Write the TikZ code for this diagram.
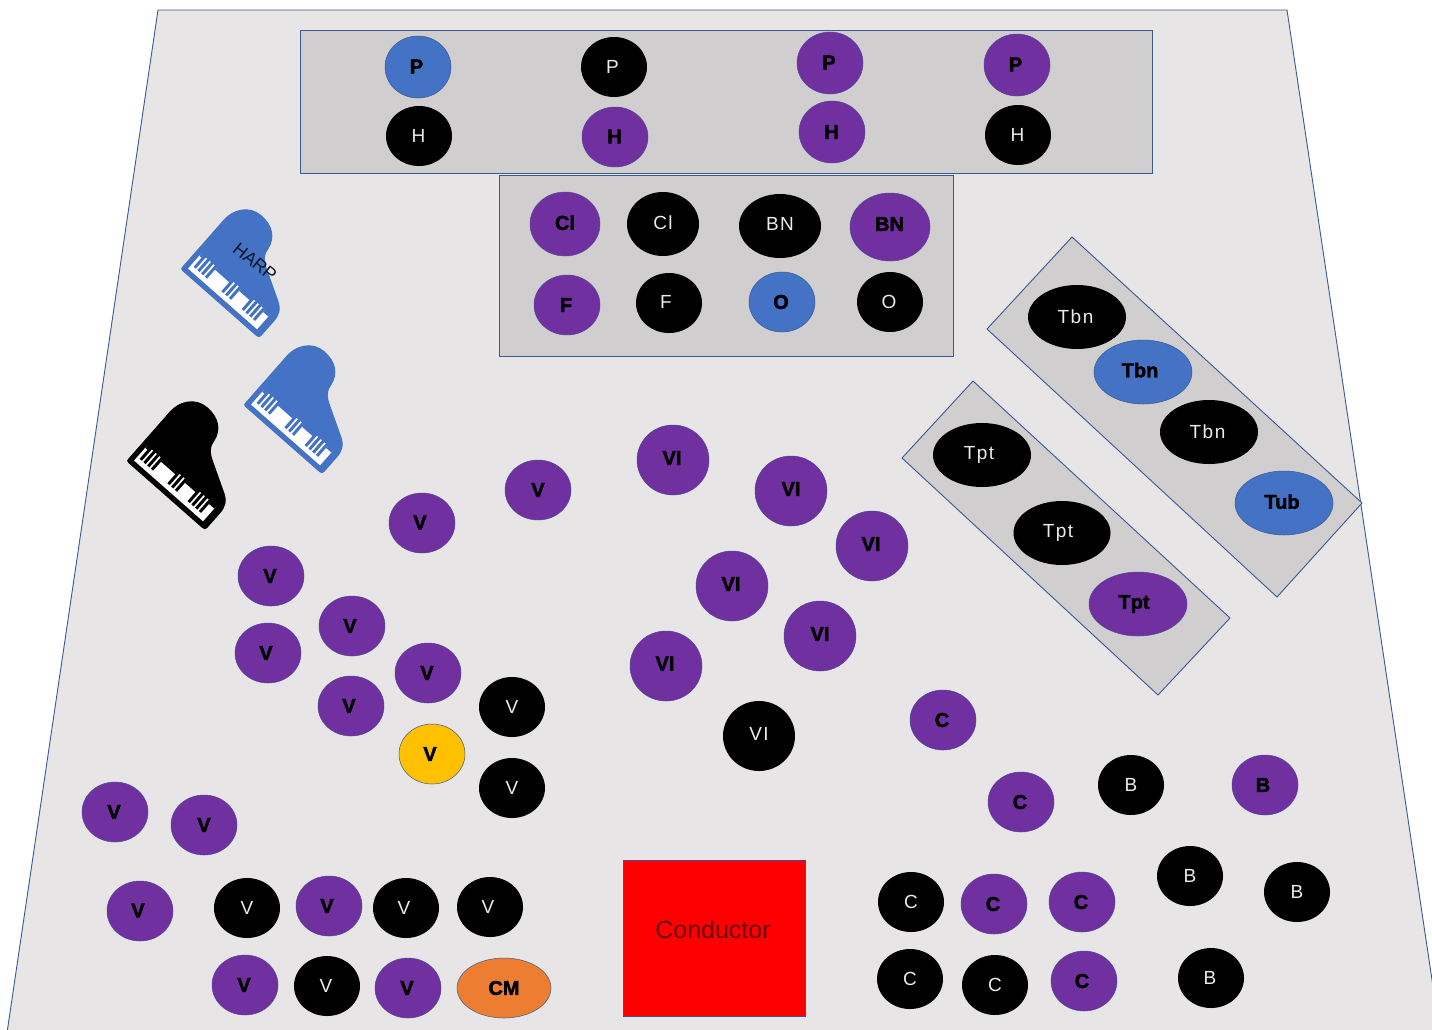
\documentclass[tikz,border=0pt]{standalone}
\usepackage{fontspec}
\setmainfont{Liberation Sans}
\newfontfamily\wtfont[LetterSpace=8]{Liberation Sans}
\newfontfamily\bdfont[FakeBold=2]{Liberation Sans Bold}
\usetikzlibrary{shapes.geometric}
\definecolor{stagec}{HTML}{E7E5E6}
\definecolor{panelc}{HTML}{D0CECE}
\definecolor{edgec}{HTML}{3A5A90}
\definecolor{purp}{HTML}{7030A0}
\definecolor{blu}{HTML}{4472C4}
\definecolor{yel}{HTML}{FFC000}
\definecolor{org}{HTML}{ED7D31}
\definecolor{condtext}{HTML}{6A0008}
\tikzset{
  panel/.style={draw=edgec,fill=panelc,line width=.9pt,line join=miter},
  seat/.style={ellipse,inner sep=0pt,outer sep=0pt,font=\bdfont\fontsize{20}{20}\selectfont,text=black},
  pur/.style={seat,fill=purp,draw=edgec!60!purp,line width=.5pt},
  blue/.style={seat,fill=blu,draw=edgec,line width=.5pt},
  blk/.style={seat,fill=black,font=\wtfont\fontsize{19}{19}\selectfont,text=white!92!black},
  yellowseat/.style={seat,fill=yel,draw=edgec,line width=.5pt},
  orange/.style={seat,fill=org,draw=edgec,line width=.5pt},
}
\newcommand{\lift}[3]{\raisebox{#2pt}{#3\kern#1pt}}
\newcommand{\inst}[7]{\node[#6,minimum width=#4pt,minimum height=#5pt] (#1) at (#2,#3) {#7};}
\newcommand{\pbar}[5]{\fill[#5] (#1,#2) -- (#3,#2) -- (#3,#4) -- (#1,#4) -- cycle;}
\newcommand{\pianoshape}[3]{%
 \begin{scope}[shift={(#1,#2)},x={(0.75pt,-0.66pt)},y={(0.66pt,0.75pt)}]
  \fill[#3,draw=#3,line width=1pt,line join=round] (2,0) .. controls (0,0) and (0,1) .. (0,3) -- (0,62)
    .. controls (-1,80) and (10,93) .. (25,93)
    .. controls (40,93) and (50,86) .. (52,72)
    .. controls (53,63) and (58,60) .. (65,56)
    -- (92,41)
    .. controls (102,36) and (104,30) .. (104,22) -- (104,3) .. controls (104,1) and (103,0) .. (101,0) -- cycle;
  \pbar{5}{5}{97}{25}{white}
  \foreach \a/\b in {8/11,13/16,18/21,23/26,45/48,50/53,55/58,72/75,77/80,82/85,87/90}
    {\pbar{\a}{10}{\b}{26}{#3}}
  \pbar{26}{22}{45}{26}{#3}
  \pbar{58}{22}{72}{26}{#3}
  \pbar{90}{22}{97}{26}{#3}
  \pbar{5}{22}{8}{26}{#3}
 \end{scope}}
\begin{document}
\begin{tikzpicture}[x=1pt,y=-1pt]
\useasboundingbox (0,0) rectangle (1432,1029);
\fill[white] (0,0) rectangle (1432,1029);
\begin{scope}
\clip (0,0) rectangle (1432,1029);
\draw[edgec,fill=stagec,line width=.9pt] (158,10) -- (1287,10) -- (1444,1060) -- (3,1060) -- cycle;
\end{scope}
\draw[panel] (300,30) rectangle (1152,173);
\draw[panel] (499,175) rectangle (953,356);
\draw[panel] (1072,237) -- (1362,503) -- (1277,597) -- (987,329) -- cycle;
\draw[panel] (973,381) -- (1230,618) -- (1158,695) -- (902,458) -- cycle;
\node[draw=edgec!60!purp,fill=red,line width=1pt,minimum width=182pt,minimum height=156pt,inner sep=0pt] (cond) at (714,938) {};
\node[font=\fontsize{25}{25}\selectfont,text=condtext,inner sep=0pt] (condlabel) at (713,930) {Conductor};
\pianoshape{181}{269}{blu}
\pianoshape{244}{405}{blu}
\pianoshape{127}{461}{black}
\node[rotate=-39,font=\fontsize{18}{18}\selectfont,text=black!80!blu,inner sep=0pt] (harp) at (255,262) {HARP};
\inst{p1}{418}{67}{66}{62}{blue}{\lift{3}{1}{P}}
\inst{p2}{614}{67}{66}{60}{blk}{\lift{3}{1}{P}}
\inst{p3}{830}{63}{66}{62}{pur}{\lift{2}{1}{P}}
\inst{p4}{1017}{65}{66}{62}{pur}{\lift{3}{1}{P}}
\inst{h1}{419}{136}{66}{60}{blk}{\lift{1}{0}{H}}
\inst{h2}{615}{137}{66}{60}{pur}{\lift{1}{1}{H}}
\inst{h3}{832}{132}{66}{62}{pur}{\lift{1}{0}{H}}
\inst{h4}{1018}{135}{66}{60}{blk}{\lift{1}{1}{H}}
\inst{c1}{565}{224}{70}{64}{pur}{\lift{0}{3}{Cl}}
\inst{c2}{663}{224}{72}{64}{blk}{\lift{0}{2}{Cl}}
\inst{bn1}{780}{226}{82}{64}{blk}{\lift{0}{5}{BN}}
\inst{bn2}{890}{227}{80}{68}{pur}{\lift{1}{6}{BN}}
\inst{f1}{567}{305}{66}{60}{pur}{\lift{2}{0}{F}}
\inst{f2}{669}{303}{66}{60}{blk}{\lift{6}{2}{F}}
\inst{o1}{782}{302}{66}{60}{blue}{\lift{2}{0}{O}}
\inst{o2}{890}{302}{66}{60}{blk}{\lift{2}{0}{O}}
\inst{tbn1}{1077}{317}{98}{64}{blk}{\lift{3}{1}{Tbn}}
\inst{tbn2}{1143}{372}{98}{64}{blue}{\lift{6}{4}{Tbn}}
\inst{tbn3}{1209}{432}{98}{64}{blk}{\lift{3}{1}{Tbn}}
\inst{tub}{1284}{503}{98}{64}{blue}{\lift{4}{3}{Tub}}
\inst{tpt1}{982}{455}{98}{64}{blk}{\lift{6}{2}{Tpt}}
\inst{tpt2}{1062}{533}{97}{64}{blk}{\lift{8}{2}{Tpt}}
\inst{tpt3}{1138}{604}{98}{64}{pur}{\lift{8}{3}{Tpt}}
\inst{v1}{538}{490}{66}{60}{pur}{\lift{0}{0}{V}}
\inst{v2}{422}{523}{66}{60}{pur}{\lift{4}{1}{V}}
\inst{v3}{271}{576}{66}{60}{pur}{\lift{2}{0}{V}}
\inst{v4}{352}{626}{66}{60}{pur}{\lift{4}{0}{V}}
\inst{v5}{268}{653}{66}{60}{pur}{\lift{4}{0}{V}}
\inst{v6}{428}{673}{66}{60}{pur}{\lift{2}{0}{V}}
\inst{v7}{351}{706}{66}{60}{pur}{\lift{4}{0}{V}}
\inst{v8}{512}{707}{66}{60}{blk}{\lift{0}{0}{V}}
\inst{v9}{432}{754}{66}{60}{yellowseat}{\lift{4}{-1}{V}}
\inst{v10}{512}{788}{66}{60}{blk}{\lift{0}{0}{V}}
\inst{vi1}{673}{460}{72}{70}{pur}{\lift{2}{4}{VI}}
\inst{vi2}{791}{491}{72}{70}{pur}{\lift{0}{4}{VI}}
\inst{vi3}{872}{546}{72}{70}{pur}{\lift{2}{4}{VI}}
\inst{vi4}{732}{586}{72}{70}{pur}{\lift{2}{4}{VI}}
\inst{vi5}{820}{636}{72}{70}{pur}{\lift{0}{4}{VI}}
\inst{vi6}{666}{666}{72}{70}{pur}{\lift{2}{5}{VI}}
\inst{vi7}{759}{736}{72}{70}{blk}{\lift{0}{5}{VI}}
\inst{ce1}{943}{720}{66}{60}{pur}{\lift{2}{0}{C}}
\inst{ce2}{1021}{802}{66}{60}{pur}{\lift{2}{0}{C}}
\inst{b1}{1131}{785}{66}{60}{blk}{\lift{0}{0}{B}}
\inst{b2}{1265}{785}{66}{60}{pur}{\lift{4}{0}{B}}
\inst{b3}{1190}{876}{66}{60}{blk}{\lift{0}{0}{B}}
\inst{b4}{1297}{892}{66}{60}{blk}{\lift{0}{0}{B}}
\inst{b5}{1211}{978}{66}{60}{blk}{\lift{2}{0}{B}}
\inst{ce3}{911}{902}{66}{60}{blk}{\lift{0}{0}{C}}
\inst{ce4}{994}{904}{66}{60}{pur}{\lift{2}{0}{C}}
\inst{ce5}{1082}{902}{66}{60}{pur}{\lift{2}{0}{C}}
\inst{ce6}{910}{979}{66}{60}{blk}{\lift{0}{0}{C}}
\inst{ce7}{995}{985}{66}{60}{blk}{\lift{0}{0}{C}}
\inst{ce8}{1084}{981}{66}{60}{pur}{\lift{4}{0}{C}}
\inst{w1}{115}{812}{66}{60}{pur}{\lift{2}{0}{V}}
\inst{w2}{204}{825}{66}{60}{pur}{\lift{0}{0}{V}}
\inst{w3}{140}{911}{66}{60}{pur}{\lift{4}{1}{V}}
\inst{w4}{247}{908}{66}{60}{blk}{\lift{0}{0}{V}}
\inst{w5}{329}{906}{66}{60}{pur}{\lift{4}{0}{V}}
\inst{w6}{406}{908}{66}{60}{blk}{\lift{4}{0}{V}}
\inst{w7}{490}{907}{66}{60}{blk}{\lift{4}{0}{V}}
\inst{w8}{245}{985}{66}{60}{pur}{\lift{2}{0}{V}}
\inst{w9}{327}{986}{66}{60}{blk}{\lift{2}{0}{V}}
\inst{w10}{408}{988}{66}{60}{pur}{\lift{2}{0}{V}}
\inst{cm}{504}{988}{94}{60}{orange}{\lift{0}{0}{CM}}
\end{tikzpicture}
\end{document}
